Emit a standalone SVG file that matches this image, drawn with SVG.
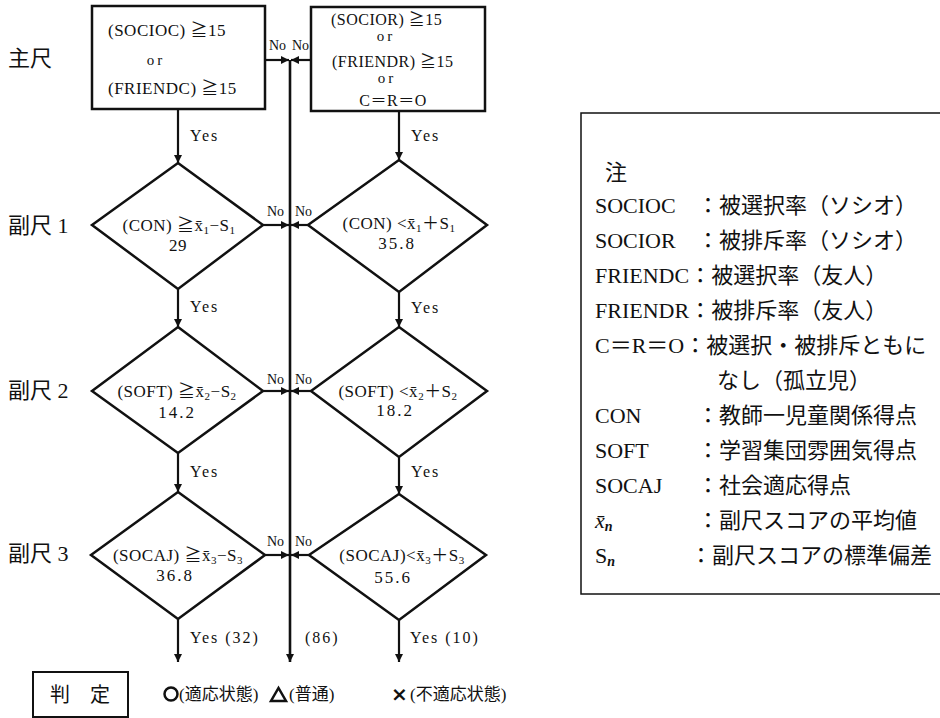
<svg xmlns="http://www.w3.org/2000/svg" width="940" height="718" viewBox="0 0 940 718">
<style>
text{font-family:"Liberation Serif","Noto Sans CJK JP",serif;fill:#111}
.f{font-size:17px;letter-spacing:0.5px}
.g{font-size:16px;letter-spacing:0.5px}
.or{font-size:15px;letter-spacing:3px}
.no{font-size:14px}
.yes{font-size:16px;letter-spacing:2px}
.row{font-size:22px;font-family:"Noto Sans CJK JP","Liberation Serif",sans-serif}
.lg{font-size:22px}
.jp{font-family:"Noto Sans CJK JP",sans-serif}
.shape{fill:#fff;stroke:#111;stroke-width:2.5}
.conn line{stroke:#111;stroke-width:2.2}
.sub{font-size:11px}
.cross{font-family:"DejaVu Sans",sans-serif;font-size:20px;font-weight:bold}
</style>
<defs>
<marker id="ar" markerUnits="userSpaceOnUse" markerWidth="8" markerHeight="8" refX="8" refY="4" orient="auto">
<path d="M0,0 L8,4 L0,8 z" fill="#111"/>
</marker>
</defs>
<rect width="940" height="718" fill="#fff"/>

<g id="row-labels" class="row">
<text x="8" y="66">主尺</text>
<text x="8" y="233">副尺 1</text>
<text x="8" y="398">副尺 2</text>
<text x="8" y="561">副尺 3</text>
</g>

<g class="conn">
<line x1="178" y1="109" x2="178" y2="163" marker-end="url(#ar)"/>
<line x1="399" y1="111" x2="399" y2="160" marker-end="url(#ar)"/>
<line x1="178" y1="289" x2="178" y2="327" marker-end="url(#ar)"/>
<line x1="399" y1="292" x2="399" y2="327" marker-end="url(#ar)"/>
<line x1="178" y1="453" x2="178" y2="492" marker-end="url(#ar)"/>
<line x1="399" y1="457" x2="399" y2="494" marker-end="url(#ar)"/>
<line x1="178" y1="619" x2="178" y2="662" marker-end="url(#ar)"/>
<line x1="399" y1="620" x2="399" y2="662" marker-end="url(#ar)"/>
<line x1="290" y1="60" x2="290" y2="662" marker-end="url(#ar)" style="stroke-width:2.6"/>
<line x1="265" y1="60" x2="289" y2="60" marker-end="url(#ar)"/>
<line x1="311" y1="60" x2="291" y2="60" marker-end="url(#ar)"/>
<line x1="263" y1="225" x2="289" y2="225" marker-end="url(#ar)"/>
<line x1="308" y1="225" x2="291" y2="225" marker-end="url(#ar)"/>
<line x1="263" y1="391" x2="289" y2="391" marker-end="url(#ar)"/>
<line x1="311" y1="391" x2="291" y2="391" marker-end="url(#ar)"/>
<line x1="265" y1="555" x2="289" y2="555" marker-end="url(#ar)"/>
<line x1="309" y1="555" x2="291" y2="555" marker-end="url(#ar)"/>
<g class="no">
<text x="269" y="50">No</text><text x="292" y="50">No</text>
<text x="267" y="216">No</text><text x="295" y="216">No</text>
<text x="267" y="384">No</text><text x="295" y="384">No</text>
<text x="267" y="546">No</text><text x="295" y="546">No</text>
</g>
<g class="yes">
<text x="190" y="141">Yes</text><text x="411" y="141">Yes</text>
<text x="190" y="312">Yes</text><text x="411" y="313">Yes</text>
<text x="190" y="477">Yes</text><text x="411" y="477">Yes</text>
<text x="190" y="643">Yes (32)</text><text x="305" y="643">(86)</text><text x="410" y="643">Yes (10)</text>
</g>
</g>

<g id="box-main-left">
<rect class="shape" x="92" y="6" width="173" height="103"/>
<text class="f" x="108" y="36">(SOCIOC) ≧15</text>
<text class="or" x="156" y="65" text-anchor="middle">or</text>
<text class="f" x="108" y="94">(FRIENDC)  ≧15</text>
</g>

<g id="box-main-right">
<rect class="shape" x="311" y="7" width="174" height="104"/>
<text class="g" x="331" y="25">(SOCIOR) ≧15</text>
<text class="or" x="386" y="41" text-anchor="middle">or</text>
<text class="g" x="332" y="67">(FRIENDR) ≧15</text>
<text class="or" x="387" y="83" text-anchor="middle">or</text>
<text class="g" x="393" y="106" text-anchor="middle">C＝R＝O</text>
</g>

<g id="d1-left">
<polygon class="shape" points="178,163 263,225 178,289 92,225"/>
<text class="f" x="179" y="231" text-anchor="middle">(CON) ≧x̄<tspan class="sub" dy="3">1</tspan><tspan dy="-3">−S</tspan><tspan class="sub" dy="3">1</tspan></text>
<text class="f" x="178" y="251" text-anchor="middle">29</text>
</g>
<g id="d1-right">
<polygon class="shape" points="399,160 487,225 399,292 308,225"/>
<text class="f" x="399" y="229" text-anchor="middle">(CON) &lt;x̄<tspan class="sub" dy="3">1</tspan><tspan dy="-3">＋S</tspan><tspan class="sub" dy="3">1</tspan></text>
<text class="f" x="397" y="249" text-anchor="middle" style="letter-spacing:2px">35.8</text>
</g>

<g id="d2-left">
<polygon class="shape" points="178,327 263,391 178,453 92,391"/>
<text class="f" x="177" y="397" text-anchor="middle">(SOFT) ≧x̄<tspan class="sub" dy="3">2</tspan><tspan dy="-3">−S</tspan><tspan class="sub" dy="3">2</tspan></text>
<text class="f" x="177" y="418" text-anchor="middle" style="letter-spacing:2px">14.2</text>
</g>
<g id="d2-right">
<polygon class="shape" points="399,327 487,391 399,457 311,391"/>
<text class="f" x="398" y="397" text-anchor="middle">(SOFT) &lt;x̄<tspan class="sub" dy="3">2</tspan><tspan dy="-3">＋S</tspan><tspan class="sub" dy="3">2</tspan></text>
<text class="f" x="395" y="416" text-anchor="middle" style="letter-spacing:2px">18.2</text>
</g>

<g id="d3-left">
<polygon class="shape" points="178,492 265,555 178,619 91,555"/>
<text class="f" x="178" y="561" text-anchor="middle">(SOCAJ) ≧x̄<tspan class="sub" dy="3">3</tspan><tspan dy="-3">−S</tspan><tspan class="sub" dy="3">3</tspan></text>
<text class="f" x="175" y="581" text-anchor="middle" style="letter-spacing:2px">36.8</text>
</g>
<g id="d3-right">
<polygon class="shape" points="399,494 486,555 399,620 309,555"/>
<text class="f" x="402" y="561" text-anchor="middle">(SOCAJ)&lt;x̄<tspan class="sub" dy="3">3</tspan><tspan dy="-3">＋S</tspan><tspan class="sub" dy="3">3</tspan></text>
<text class="f" x="393" y="583" text-anchor="middle" style="letter-spacing:2px">55.6</text>
</g>

<g id="judge">
<rect x="33" y="672" width="95" height="45" fill="#fff" stroke="#111" stroke-width="2"/>
<text class="jp" x="80" y="702" text-anchor="middle" font-size="20">判　定</text>
</g>
<g id="results" class="jp" font-size="17">
<circle cx="171" cy="694" r="6.5" fill="none" stroke="#111" stroke-width="2.5"/>
<text x="179" y="700">(適応状態)</text>
<polygon points="271,701 286,701 278.5,688" fill="none" stroke="#111" stroke-width="2.5"/>
<text x="289" y="700">(普通)</text>
<text class="cross" x="391" y="701">×</text>
<text x="410" y="700">(不適応状態)</text>
</g>

<g id="legend">
<rect x="581" y="113" width="400" height="481" fill="none" stroke="#111" stroke-width="1.5"/>
<g class="lg">
<text class="jp" x="605" y="180">注</text>
<text x="595" y="213">SOCIOC</text><text class="jp" x="697" y="213">：被選択率（ソシオ）</text>
<text x="595" y="248">SOCIOR</text><text class="jp" x="697" y="248">：被排斥率（ソシオ）</text>
<text x="595" y="283">FRIENDC<tspan class="jp">：被選択率（友人）</tspan></text>
<text x="595" y="318">FRIENDR<tspan class="jp">：被排斥率（友人）</tspan></text>
<text x="595" y="353">C＝R＝O<tspan class="jp">：被選択・被排斥ともに</tspan></text>
<text class="jp" x="717" y="388">なし（孤立児）</text>
<text x="595" y="423">CON</text><text class="jp" x="697" y="423">：教師一児童関係得点</text>
<text x="595" y="458">SOFT</text><text class="jp" x="697" y="458">：学習集団雰囲気得点</text>
<text x="595" y="493">SOCAJ</text><text class="jp" x="697" y="493">：社会適応得点</text>
<text x="595" y="528" font-style="italic">x̄<tspan font-size="14" dy="3" font-weight="bold">n</tspan></text><text class="jp" x="697" y="528">：副尺スコアの平均値</text>
<text x="595" y="563">S<tspan font-size="14" dy="3" font-style="italic" font-weight="bold">n</tspan></text><text class="jp" x="690" y="563">：副尺スコアの標準偏差</text>
</g>
</g>
</svg>
